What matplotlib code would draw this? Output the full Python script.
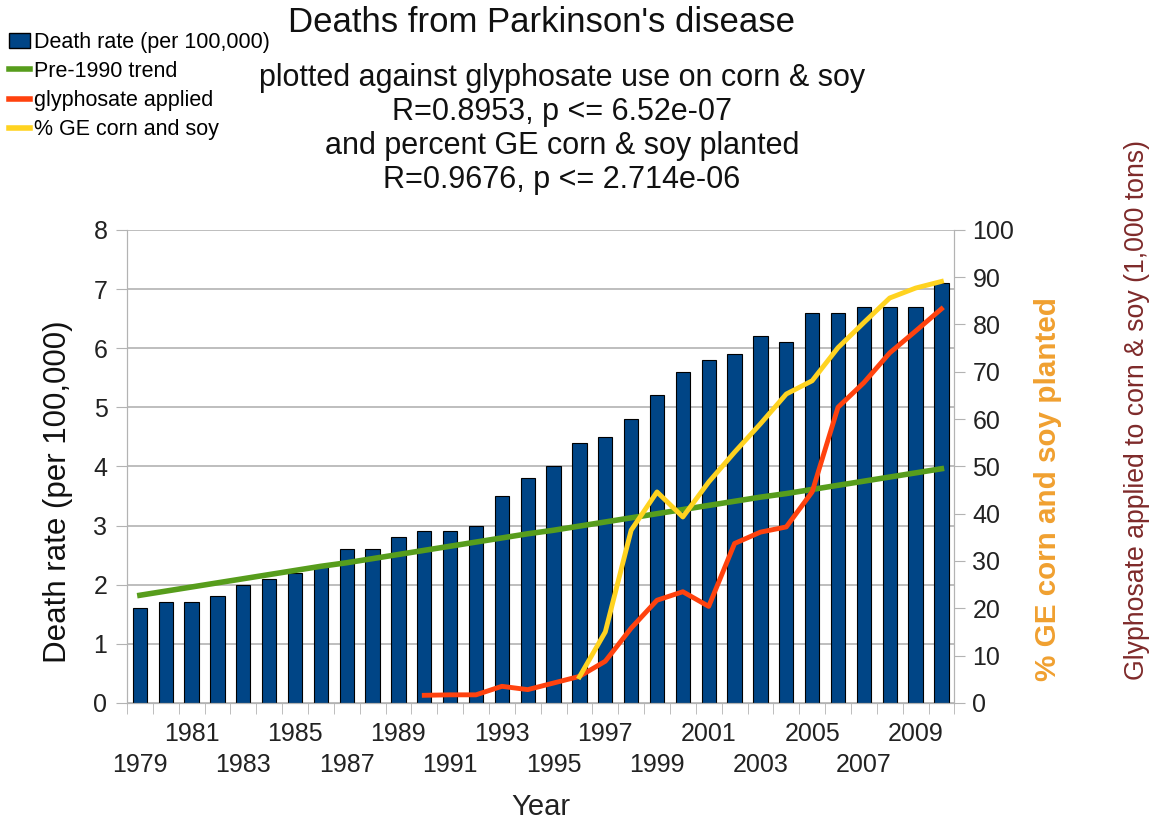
import matplotlib.pyplot as plt
from matplotlib.patches import Patch
from matplotlib.lines import Line2D
import numpy as np

plt.rcParams['font.family'] = ['Liberation Sans', 'DejaVu Sans']

years = list(range(1979, 2011))
death_rate = [1.6, 1.7, 1.7, 1.8, 2.0, 2.1, 2.2, 2.3, 2.6, 2.6, 2.8, 2.9, 2.9, 3.0, 3.5, 3.8,
              4.0, 4.4, 4.5, 4.8, 5.2, 5.6, 5.8, 5.9, 6.2, 6.1, 6.6, 6.6, 6.7, 6.7, 6.7, 7.1]
trend = [1.82, 1.89, 1.96, 2.03, 2.10, 2.17, 2.24, 2.31, 2.37, 2.44, 2.51, 2.58, 2.65, 2.72,
         2.79, 2.86, 2.92, 2.99, 3.06, 3.13, 3.20, 3.27, 3.34, 3.41, 3.48, 3.54, 3.61, 3.68,
         3.75, 3.82, 3.89, 3.96]
glyph_years = list(range(1990, 2011))
glyphosate = [1.6, 1.7, 1.7, 3.5, 2.8, 4.2, 5.6, 8.8, 15.8, 21.7, 23.5, 20.4, 33.7, 36.1,
              37.2, 44.6, 62.5, 67.7, 74.0, 78.6, 83.3]
ge_years = list(range(1996, 2011))
ge_percent = [5.5, 15.0, 36.5, 44.6, 39.3, 46.7, 53.0, 59.0, 65.3, 68.1, 75.1, 80.4, 85.6,
              87.7, 89.1]

bar_col = '#004586'
green = '#579d1c'
red = '#ff420e'
yellow = '#ffd320'

fig = plt.figure(figsize=(11.54, 8.24), dpi=100)
ax = fig.add_axes([0.110, 0.147, 0.717, 0.574])
ax2 = ax.twinx()

x = np.arange(len(years))
ax.bar(x, death_rate, width=0.55, color=bar_col, edgecolor='black', linewidth=0.8, zorder=2)
ax.plot(x, trend, color=green, lw=4, zorder=3)
gx = [years.index(y) for y in glyph_years]
ex = [years.index(y) for y in ge_years]
ax2.plot(gx, glyphosate, color=red, lw=3.5, zorder=3)
ax2.plot(ex, ge_percent, color=yellow, lw=3.5, zorder=3)

ax.set_xlim(-0.5, len(years) - 0.5)
ax.set_ylim(0, 8)
ax2.set_ylim(0, 100)
ax.set_yticks(range(0, 9))
ax2.set_yticks(range(0, 101, 10))
ax.yaxis.grid(True, color='#b3b3b3', lw=1.2)
ax.set_axisbelow(True)

# odd years labelled on two staggered rows
odd = [i for i, y in enumerate(years) if y % 2 == 1]
labels = []
for k, i in enumerate(odd):
    labels.append(str(years[i]) if k % 2 else '\n' + str(years[i]))
ax.set_xticks(odd)
ax.set_xticklabels(labels, fontsize=18, linespacing=1.35)
ax.tick_params(axis='x', which='major', length=0, pad=14)
ax.set_xticks(np.arange(-0.5, len(years)), minor=True)
ax.tick_params(axis='x', which='minor', length=8, color='#b3b3b3')

ax.tick_params(axis='y', labelsize=18, length=8, color='#b3b3b3', pad=6)
ax2.tick_params(axis='y', labelsize=18, length=8, color='#b3b3b3', pad=5)
for a in (ax, ax2):
    for s in a.spines.values():
        s.set_color('#b3b3b3')
    a.spines['top'].set_visible(False)
for lbl in ax.get_xticklabels() + ax.get_yticklabels() + ax2.get_yticklabels():
    lbl.set_color('#222222')

fig.text(541 / 1154, 1 - 807 / 824, 'Year', fontsize=21, ha='center', va='center',
         color='#222222')
fig.text(58 / 1154, 1 - 492 / 824, 'Death rate (per 100,000)', rotation=90, fontsize=22.5,
         ha='center', va='center', color='#111111')

fig.text(1048 / 1154, 1 - 489 / 824, '% GE corn and soy planted', rotation=90, fontsize=21.3,
         fontweight='bold', color='#f0a030', ha='center', va='center')
fig.text(1137 / 1154, 1 - 410 / 824, 'Glyphosate applied to corn & soy (1,000 tons)',
         rotation=90, fontsize=19.2, color='#7e2a2a', ha='center', va='center')

fig.text(541 / 1154, 1 - 22 / 824, "Deaths from Parkinson's disease", fontsize=25,
         ha='center', va='center', color='#111111')
subtitle = ["plotted against glyphosate use on corn & soy",
            "R=0.8953, p <= 6.52e-07",
            "and percent GE corn & soy planted",
            "R=0.9676, p <= 2.714e-06"]
for i, line in enumerate(subtitle):
    fig.text(562 / 1154, 1 - (78 + 34 * i) / 824, line, fontsize=22, ha='center',
             va='center', color='#111111')

handles = [Patch(facecolor=bar_col, edgecolor='black'),
           Line2D([], [], color=green, lw=4),
           Line2D([], [], color=red, lw=4),
           Line2D([], [], color=yellow, lw=4)]
names = ['Death rate (per 100,000)', 'Pre-1990 trend', 'glyphosate applied',
         '% GE corn and soy']
fig.legend(handles, names, loc='upper left', bbox_to_anchor=(0.0, 0.972), frameon=False,
           fontsize=15.5, handlelength=1.0, handletextpad=0.2, labelspacing=0.38,
           borderpad=0.2, borderaxespad=0.2)

fig.savefig('out.png', dpi=100)
